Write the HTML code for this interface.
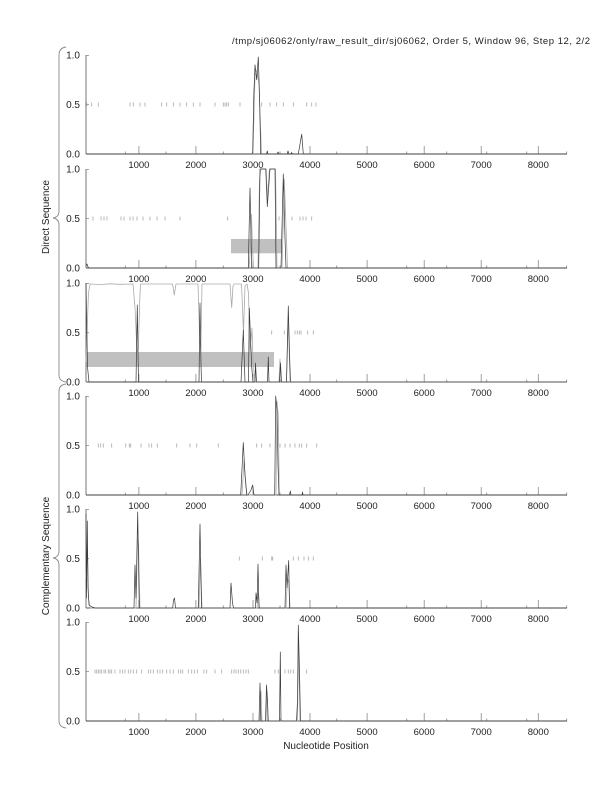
<!DOCTYPE html>
<html><head><meta charset="utf-8"><style>
html,body{margin:0;padding:0;background:#fff;}
svg{display:block;}
text{font-family:"Liberation Sans",Arial,sans-serif;fill:#222;}
.yl{font-size:10px;text-anchor:end;}
.xl{font-size:9.5px;text-anchor:middle;}
.ax{stroke:#555;stroke-width:1;fill:none;}
.yax{stroke:#777;stroke-width:1;fill:none;}
.tk{stroke:#888;stroke-width:0.8;fill:none;}
.dk{stroke:#3a3a3a;stroke-width:0.7;fill:none;stroke-linejoin:round;}
.lt{stroke:#aaa;stroke-width:0.8;fill:none;stroke-linejoin:round;}
.rug{stroke:#a8a8a8;stroke-width:0.8;fill:none;}
.br{stroke:#888;stroke-width:0.9;fill:none;}
</style></head><body>
<svg width="612" height="792" viewBox="0 0 612 792" xmlns="http://www.w3.org/2000/svg">
<rect width="612" height="792" fill="#fff"/>
<defs>
<g id="frame">
<path class="yax" d="M86 0V99"/>
<path class="ax" d="M86 99H567"/>
<path class="tk" d="M86 0.5h3M86 49.5h3M138.9 99v-8M195.9 99v-8M253 99v-8M310 99v-8M367.1 99v-8M424.2 99v-8M481.2 99v-8M538.3 99v-8M125.3 99v-2.5M166 99v-2.5M223.3 99v-2.5M280 99v-2.5M336.7 99v-2.5M406.7 99v-2.5M446.7 99v-2.5M486.7 99v-2.5M526.7 99v-2.5M566.7 99v-2.5"/>
</g>
</defs>

<text x="590" y="44" style="font-size:9.5px;text-anchor:end" textLength="358">/tmp/sj06062/only/raw_result_dir/sj06062, Order 5, Window 96, Step 12, 2/2</text>

<!-- braces -->
<path class="br" d="M66 47Q59 48 59 55V211Q59 217 53 218Q59 219 59 225V375Q59 381 66 382"/>
<path class="br" d="M66 384Q59 385 59 391V551Q59 557 53 558Q59 559 59 565V721Q59 727 66 728"/>
<text transform="translate(49,217) rotate(-90)" style="font-size:10px;text-anchor:middle">Direct Sequence</text>
<text transform="translate(49,556) rotate(-90)" style="font-size:10px;text-anchor:middle">Complementary Sequence</text>
<text x="326" y="749" style="font-size:10px;text-anchor:middle">Nucleotide Position</text>

<!-- Panel 1 -->
<g transform="translate(0,55)">
<path class="rug" d="M86.7 47.5v4M91.7 47.5v4M98.3 47.5v4M130 47.5v4M133.3 47.5v4M140 47.5v4M145 47.5v4M161.7 47.5v4M166.7 47.5v4M173.3 47.5v4M180 47.5v4M186.7 47.5v4M193.3 47.5v4M200 47.5v4M215 47.5v4M223.3 47.5v4M225 47.5v4M226.7 47.5v4M228.3 47.5v4M240 47.5v4M261.7 47.5v4M270 47.5v4M276.7 47.5v4M283.3 47.5v4M293.3 47.5v4M306.7 47.5v4M311.7 47.5v4M316 47.5v4"/>
<use href="#frame"/>
<polyline class="lt" points="253,99 255,20 257,15 259,30 261.5,99"/>
<polyline class="dk" points="86,99 252,99 252.7,97 253.8,40 255,9.9 256.7,24.75 258.3,2 259.5,40 260.7,99 266.5,99 267.3,96 268,99 277,99 278,97 279,99 287,99 288,96 289,99 291,99 291.5,97.5 292.5,99 298.3,99 301.7,79.2 303.3,99 567,99"/>
<text class="yl" x="80" y="3.5">1.0</text><text class="yl" x="80" y="53">0.5</text><text class="yl" x="80" y="102.5">0.0</text>
<g class="xl"><text x="138.9" y="113">1000</text><text x="195.9" y="113">2000</text><text x="253" y="113">3000</text><text x="310" y="113">4000</text><text x="367.1" y="113">5000</text><text x="424.2" y="113">6000</text><text x="481.2" y="113">7000</text><text x="538.3" y="113">8000</text></g>
</g>

<!-- Panel 2 -->
<g transform="translate(0,169)">
<rect x="231" y="70" width="50.7" height="14.3" fill="#c0c0c0"/>
<path class="rug" d="M93 47.5v4M101 47.5v4M104 47.5v4M107 47.5v4M121 47.5v4M124 47.5v4M130 47.5v4M133 47.5v4M137 47.5v4M143 47.5v4M150 47.5v4M157 47.5v4M165 47.5v4M180 47.5v4M227.7 47.5v4M279 47.5v4M292 47.5v4M300 47.5v4M303 47.5v4M306 47.5v4M311.7 47.5v4"/>
<use href="#frame"/>
<polyline class="lt" points="249,99 250.5,79 251.5,45 252.5,79 253.5,99 258,99 259.5,10 261,0 265.5,0 267,30 269.5,0 275.5,0 277,99 282,99 284.3,10 287.5,99"/>
<polyline class="dk" points="86,97 87,95 88,98 89,99 248.3,99 250,19 251.7,99 258.7,99 260,0 266,0 267.3,37.6 270,0 275,0 276,99 281,99 283.3,5 285,69 286,99 567,99"/>
<text class="yl" x="80" y="3.5">1.0</text><text class="yl" x="80" y="53">0.5</text><text class="yl" x="80" y="102.5">0.0</text>
<g class="xl"><text x="138.9" y="113">1000</text><text x="195.9" y="113">2000</text><text x="253" y="113">3000</text><text x="310" y="113">4000</text><text x="367.1" y="113">5000</text><text x="424.2" y="113">6000</text><text x="481.2" y="113">7000</text><text x="538.3" y="113">8000</text></g>
</g>

<!-- Panel 3 -->
<g transform="translate(0,283)">
<rect x="86" y="69" width="188" height="15" fill="#c0c0c0"/>
<path class="rug" d="M271.7 47.5v4M284.3 47.5v4M295 47.5v4M297.3 47.5v4M299.3 47.5v4M301 47.5v4M307.7 47.5v4M313.3 47.5v4"/>
<use href="#frame"/>
<polyline class="lt" points="86,79 87,49.5 88.5,9.9 90,1 100,1.5 110,0.8 120,1.3 133,1 135,24.75 137,69 138.3,66 140,10 140.7,1 160,1 172.5,1 174.3,12 176,1 198,1 199.5,49.5 200.8,70 202,1 230,1 231.7,24.75 233,3 234,1 241.5,1 243.5,49.5 245,3 247,1 248.5,10 250,69 252,45 253,79 255,99 279,99 280,76 281,99 286.5,99 288,40 289,60 290,99 567,99"/>
<polyline class="dk" points="86,0 87.5,84 89,99 136,99 137.3,22 138.5,99 199,99 200,20 201,82 201.5,99 241,99 243.3,47 245,99 248.5,99 249.3,25 251.7,84 253,99 255,99 255.5,80 256.5,99 267.5,99 268.3,74 269,99 279.5,99 280.5,80 281.5,99 286.5,99 288.3,23 289.5,70 290.5,99 567,99"/>
<text class="yl" x="80" y="3.5">1.0</text><text class="yl" x="80" y="53">0.5</text><text class="yl" x="80" y="102.5">0.0</text>
<g class="xl"><text x="138.9" y="113">1000</text><text x="195.9" y="113">2000</text><text x="253" y="113">3000</text><text x="310" y="113">4000</text><text x="367.1" y="113">5000</text><text x="424.2" y="113">6000</text><text x="481.2" y="113">7000</text><text x="538.3" y="113">8000</text></g>
</g>

<!-- Panel 4 -->
<g transform="translate(0,396)">
<path class="rug" d="M98.3 47.5v4M100.7 47.5v4M103.3 47.5v4M111.7 47.5v4M125.7 47.5v4M129.3 47.5v4M130.7 47.5v4M141 47.5v4M149 47.5v4M151.7 47.5v4M157.3 47.5v4M176.7 47.5v4M190 47.5v4M196.7 47.5v4M218.3 47.5v4M256.7 47.5v4M261.7 47.5v4M270 47.5v4M280 47.5v4M285 47.5v4M290 47.5v4M295 47.5v4M299.3 47.5v4M301.7 47.5v4M306.7 47.5v4M316.7 47.5v4"/>
<use href="#frame"/>
<polyline class="lt" points="242,99 244,64 245.5,84 247,99 276,99 277,5 278.3,20 279.3,99"/>
<polyline class="dk" points="86,99 240.7,99 243.3,46.5 245,79 246.7,99 248,99 251,94 252.7,89 254,99 274.7,99 275.7,0 277,15 278,69 279,99 289.5,99 290.3,95 291,99 302,99 302.5,96 303,99 567,99"/>
<text class="yl" x="80" y="3.5">1.0</text><text class="yl" x="80" y="53">0.5</text><text class="yl" x="80" y="102.5">0.0</text>
<g class="xl"><text x="138.9" y="113">1000</text><text x="195.9" y="113">2000</text><text x="253" y="113">3000</text><text x="310" y="113">4000</text><text x="367.1" y="113">5000</text><text x="424.2" y="113">6000</text><text x="481.2" y="113">7000</text><text x="538.3" y="113">8000</text></g>
</g>

<!-- Panel 5 -->
<g transform="translate(0,509)">
<path class="rug" d="M239.3 47.5v4M262.3 47.5v4M271.7 47.5v4M272.7 47.5v4M293.3 47.5v4M298.3 47.5v4M304 47.5v4M308.3 47.5v4M313.3 47.5v4"/>
<use href="#frame"/>
<polyline class="lt" points="86,69 87.5,40 88.5,89 90,99 136,99 137.5,30 138.5,35 140,99 199,99 200.5,49.5 202,99 257,99 258.3,84 259.5,99 286,99 287.5,69 289,74 290,99"/>
<polyline class="dk" points="86,5 86.5,89 87.3,12 88,79 89,96 92,98 95,99 134,99 135,56 136,89 137.7,3 139.3,99 172.7,99 173.5,91 174.5,89 175.5,99 198.3,99 200,15 201.5,99 230,99 231,74 232.5,94 233.5,99 255.5,99 256,84 257,94 258,55 259,99 285,99 286,56 287,79 288.7,51.5 289.5,99 567,99"/>
<text class="yl" x="80" y="3.5">1.0</text><text class="yl" x="80" y="53">0.5</text><text class="yl" x="80" y="102.5">0.0</text>
<g class="xl"><text x="138.9" y="113">1000</text><text x="195.9" y="113">2000</text><text x="253" y="113">3000</text><text x="310" y="113">4000</text><text x="367.1" y="113">5000</text><text x="424.2" y="113">6000</text><text x="481.2" y="113">7000</text><text x="538.3" y="113">8000</text></g>
</g>

<!-- Panel 6 -->
<g transform="translate(0,622)">
<path class="rug" d="M95 47.5v4M96.7 47.5v4M98.3 47.5v4M100 47.5v4M101.7 47.5v4M104 47.5v4M105.7 47.5v4M108.3 47.5v4M110 47.5v4M111.7 47.5v4M115 47.5v4M120 47.5v4M122.7 47.5v4M125 47.5v4M128.3 47.5v4M130.7 47.5v4M133.3 47.5v4M136.7 47.5v4M141.7 47.5v4M148.3 47.5v4M150.7 47.5v4M153.3 47.5v4M157.3 47.5v4M160 47.5v4M162.7 47.5v4M166.7 47.5v4M170 47.5v4M173.3 47.5v4M178.3 47.5v4M180.7 47.5v4M182.7 47.5v4M188.3 47.5v4M191.7 47.5v4M194.3 47.5v4M197.3 47.5v4M204 47.5v4M206.7 47.5v4M215 47.5v4M221.7 47.5v4M231.7 47.5v4M234 47.5v4M236 47.5v4M238.3 47.5v4M240.7 47.5v4M243.3 47.5v4M246 47.5v4M248.3 47.5v4M275 47.5v4M278.3 47.5v4M285 47.5v4M288.3 47.5v4M290.7 47.5v4M293.3 47.5v4M298.3 47.5v4M306.7 47.5v4"/>
<use href="#frame"/>
<polyline class="lt" points="260,99 261,69 262,99 266,99 267,70 268.5,99 297.5,99 298.5,20 300,99"/>
<polyline class="dk" points="86,99 259,99 260,61 261,99 265.5,99 266.5,63 267.5,79 268,99 279.5,99 280.3,30 281,99 296.5,99 297.5,79 298.3,3 299.5,49.5 300.5,99 567,99"/>
<text class="yl" x="80" y="3.5">1.0</text><text class="yl" x="80" y="53">0.5</text><text class="yl" x="80" y="102.5">0.0</text>
<g class="xl"><text x="138.9" y="113">1000</text><text x="195.9" y="113">2000</text><text x="253" y="113">3000</text><text x="310" y="113">4000</text><text x="367.1" y="113">5000</text><text x="424.2" y="113">6000</text><text x="481.2" y="113">7000</text><text x="538.3" y="113">8000</text></g>
</g>
</svg>
</body></html>
